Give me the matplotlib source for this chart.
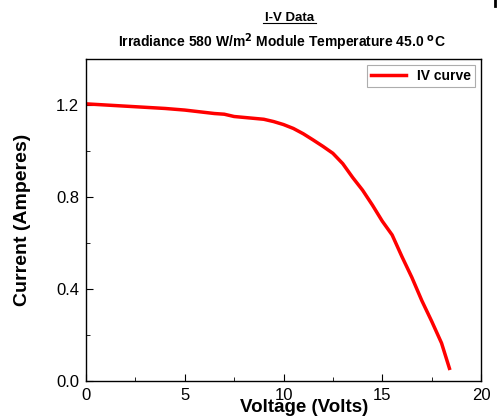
import matplotlib
matplotlib.use("Agg")
import matplotlib.pyplot as plt
from matplotlib.ticker import MultipleLocator, FormatStrFormatter

plt.rcParams['font.family'] = ['Liberation Sans', 'DejaVu Sans']

# I-V curve
voltage = [0, 1, 2, 3, 4, 5, 6, 6.5, 7, 7.5, 8, 9, 9.5, 10, 10.5, 11, 11.5,
           12, 12.5, 13, 13.5, 14, 14.5, 15, 15.5, 16, 16.5, 17, 17.5, 18, 18.4]
current = [1.205, 1.2, 1.195, 1.19, 1.185, 1.178, 1.168, 1.163, 1.16, 1.15,
           1.146, 1.138, 1.128, 1.115, 1.098, 1.075, 1.048, 1.02, 0.99, 0.945,
           0.885, 0.83, 0.765, 0.695, 0.635, 0.54, 0.45, 0.35, 0.26, 0.165, 0.055]

fig = plt.figure(figsize=(4.99, 4.17), dpi=100)
ax = fig.add_axes([0.1723, 0.0863, 0.7917, 0.7722])

ax.plot(voltage, current, color='red', lw=2.5, label='IV curve')

ax.set_xlim(0, 20)
ax.set_ylim(0, 1.4)
ax.xaxis.set_major_locator(MultipleLocator(5))
ax.xaxis.set_minor_locator(MultipleLocator(2.5))
ax.yaxis.set_major_locator(MultipleLocator(0.4))
ax.yaxis.set_minor_locator(MultipleLocator(0.2))
ax.yaxis.set_major_formatter(FormatStrFormatter('%.1f'))
ax.tick_params(which='both', direction='in', top=False, right=False, labelsize=12)
ax.tick_params(which='major', length=5)
ax.tick_params(which='minor', length=3)
ax.tick_params(axis='x', pad=5)
ax.tick_params(axis='y', pad=5)
for s in ax.spines.values():
    s.set_linewidth(1.0)

ax.set_xlabel('Voltage (Volts)', fontsize=13.5, fontweight='bold', labelpad=-6)
ax.xaxis.set_label_coords(0.553, -0.055)
ax.set_ylabel('Current (Amperes)', fontsize=14, fontweight='bold', labelpad=18)

fig.text(0.58, 0.958, 'I-V Data', ha='center', va='center', fontsize=9.5,
         fontweight='bold')
fig.add_artist(plt.Line2D([0.527, 0.633], [0.946, 0.946], color='black', lw=0.8))
fig.text(0.565, 0.898, r'Irradiance 580 W/m$^\mathbf{2}$ Module Temperature 45.0 $^\mathbf{o}$C',
         ha='center', va='center', fontsize=10, fontweight='bold')
fig.add_artist(plt.Line2D([0.991, 0.991], [0.985, 1.0], color='black', lw=2))

leg = ax.legend(loc='upper right', prop={'weight': 'bold', 'size': 10},
                fancybox=False, edgecolor='#999999', handlelength=2.5,
                borderaxespad=0.4, borderpad=0.3)
leg.get_frame().set_linewidth(0.8)

fig.savefig('out.png', dpi=100)
